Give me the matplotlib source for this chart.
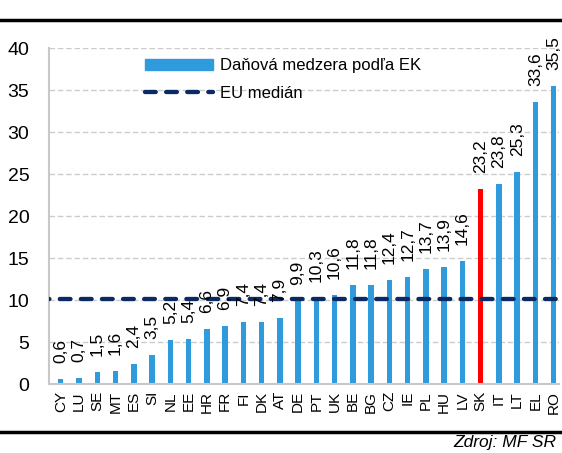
import matplotlib
matplotlib.use('Agg')
import matplotlib.pyplot as plt
from matplotlib.lines import Line2D
import numpy as np

# data
countries = ['CY', 'LU', 'SE', 'MT', 'ES', 'SI', 'NL', 'EE', 'HR', 'FR', 'FI', 'DK', 'AT', 'DE',
             'PT', 'UK', 'BE', 'BG', 'CZ', 'IE', 'PL', 'HU', 'LV', 'SK', 'IT', 'LT', 'EL', 'RO']
gap = [0.6, 0.7, 1.5, 1.6, 2.4, 3.5, 5.2, 5.4, 6.6, 6.9, 7.4, 7.4, 7.9, 9.9,
       10.3, 10.6, 11.8, 11.8, 12.4, 12.7, 13.7, 13.9, 14.6, 23.2, 23.8, 25.3, 33.6, 35.5]
eu_median = 10.1
highlight = 'SK'

plt.rcParams['font.family'] = ['Liberation Sans', 'DejaVu Sans']

blue = '#2F9BDC'
red = '#FF0000'
navy = '#0B2A63'

fig = plt.figure(figsize=(5.62, 4.53), dpi=100)
ax = fig.add_axes([0.087, 0.152, 0.908, 0.742])

x = np.arange(len(countries))
colors = [red if c == highlight else blue for c in countries]
bars = ax.bar(x, gap, width=0.3, color=colors, zorder=2)
ax.axhline(eu_median, color=navy, lw=3.1, ls=(2.4, (2.5, 2.4)), dash_capstyle='round', zorder=3)

for xi, v in zip(x, gap):
    ax.text(xi, v + 1.9, f'{v:.1f}'.replace('.', ','), rotation=90, ha='center', va='bottom',
            fontsize=12.5, clip_on=False)

ax.set_xlim(-0.65, 27.3)
ax.set_ylim(0, 40)
ax.set_yticks(range(0, 41, 5))
ax.set_xticks(x)
ax.set_xticklabels(countries, rotation=90, fontsize=11)
ax.tick_params(axis='y', length=0, pad=14, labelsize=14)
ax.tick_params(axis='x', length=0, pad=5)
ax.grid(axis='y', color='#CCCCCC', ls=(0, (4, 2)), lw=1, zorder=0)
for s in ['top', 'right']:
    ax.spines[s].set_visible(False)
for s in ['left', 'bottom']:
    ax.spines[s].set_color('#C8C8C8')
    ax.spines[s].set_linewidth(1.5)

bar_handle = plt.Rectangle((0, 0), 1, 1, color=blue)
med_handle = Line2D([], [], color=navy, lw=3.1, ls=(0, (2.5, 2.4)), dash_capstyle='round')
ax.legend([bar_handle, med_handle], ['Daňová medzera podľa EK', 'EU medián'],
          loc='upper left', bbox_to_anchor=(0.159, 1.014), frameon=False, fontsize=12,
          handlelength=4.1, handleheight=0.6, handletextpad=0.4, labelspacing=0.75)

# frame lines and source
fig.add_artist(plt.Line2D([0, 1], [1 - 20 / 453, 1 - 20 / 453], color='black', lw=2.5))
fig.add_artist(plt.Line2D([0, 1], [1 - 432 / 453, 1 - 432 / 453], color='black', lw=2.5))
fig.text(0.99, 1 - 443 / 453, 'Zdroj: MF SR', style='italic', ha='right', va='center', fontsize=12.5)

fig.savefig('out.png', dpi=100)
